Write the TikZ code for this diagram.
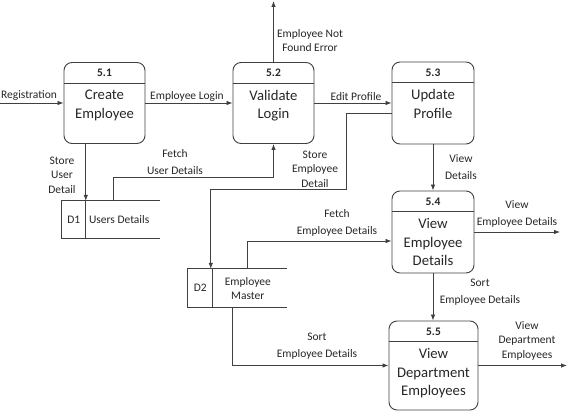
\documentclass[tikz,border=0pt]{standalone}
\usepackage{fontspec}
\setmainfont{Carlito}
\usepackage{xcolor}
\usepackage{tikz}
\usetikzlibrary{calc,arrows.meta,positioning}
\definecolor{lnc}{HTML}{404040}
\definecolor{txc}{HTML}{262626}
\tikzset{
  ln/.style={lnc,line width=0.9pt},
  ar/.style={-{Latex[length=6pt,width=4.5pt]},lnc,line width=0.8pt},
  pr/.style={draw=lnc,line width=0.9pt,rounded corners=8pt,inner sep=0pt},
  st/.style={inner sep=0pt},
  nb/.style={font=\fontsize{11.5}{13}\selectfont\bfseries,text=txc,inner sep=0pt},
  pt/.style={font=\fontsize{14.7}{18.5}\selectfont,text=txc,align=center,inner sep=0pt},
  lb/.style={font=\fontsize{11.5}{14.5}\selectfont,text=txc,align=center,inner sep=0pt},
  sl/.style={font=\fontsize{11.5}{14}\selectfont,text=txc,align=center,inner sep=0pt}
}
% process box: name, centre, size, number, text
\newcommand{\dfdp}[5]{%
  \node[pr,minimum width=#3,minimum height=#3] (#1) at (#2) {};
  \draw[ln] ($(#1.north west)+(0,21)$) -- ($(#1.north east)+(0,21)$);
  \node[nb] (#1n) at ($(#1.north)+(0,11)$) {#4};
  \node[pt,anchor=north] (#1t) at ($(#1.north)+(0,28)$) {#5};}

\begin{document}
\begin{tikzpicture}[x=1pt,y=-1pt]
\useasboundingbox (0,0) rectangle (571,411);
% processes
\dfdp{p51}{104.5,103}{81}{5.1}{Create\\Employee}
\dfdp{p52}{273.5,103}{81}{5.2}{Validate\\Login}
\dfdp{p53}{433,103}{82}{5.3}{Update\\Profile}
\dfdp{p54}{433,232}{82}{5.4}{View\\Employee\\Details}
\dfdp{p55}{433.5,365.5}{89}{5.5}{View\\Department\\Employees}
% data stores
\node[st,minimum width=98,minimum height=37] (d1) at (111,219.5) {};
\draw[ln] (d1.north east) -- (d1.north west) -- (d1.south west) -- (d1.south east);
\draw[ln] ($(d1.north west)+(24,0)$) -- ($(d1.south west)+(24,0)$);
\node[sl] (d1id) at ($(d1.west)+(12,0)$) {D1};
\node[sl,anchor=west] (d1nm) at ($(d1.west)+(27,0)$) {Users Details};
\node[st,minimum width=99,minimum height=38] (d2) at (237.5,288) {};
\draw[ln] (d2.north east) -- (d2.north west) -- (d2.south west) -- (d2.south east);
\draw[ln] ($(d2.north west)+(25,0)$) -- ($(d2.south west)+(25,0)$);
\node[sl] (d2id) at ($(d2.west)+(12.5,0)$) {D2};
\node[sl] (d2nm) at ($(d2.west)+(60,1)$) {Employee\\Master};
% free ends and store points
\coordinate (regin) at (0,103);
\coordinate (errout) at (273.5,1);
\coordinate (vedout) at (560,232);
\coordinate (vdeout) at (567,365.5);
\coordinate (d1a) at ($(d1.north west)+(24,0)$);
\coordinate (d1b) at ($(d1.north west)+(52,0)$);
\coordinate (d2a) at ($(d2.north west)+(23,0)$);
\coordinate (d2b) at ($(d2.north west)+(60,0)$);
% flows
\draw[ar] (regin) -- (p51.west);
\draw[ar] (p51.east) -- (p52.west);
\draw[ar] (p52.north) -- (errout);
\draw[ar] (p52.east) -- (p53.west);
\draw[ar] (p53.south) -- (p54.north);
\draw[ar] (p54.south) -- (p54.south |- p55.north);
\draw[ar] (p54.east) -- (vedout);
\draw[ar] (p55.east) -- (vdeout);
\draw[ar] (d1a |- p51.south) -- (d1a);
\draw[ar] (d1b) -- ++(0,-23) -| (p52.south);
\draw[ar] ($(p53.west)+(0,10)$) -- ++(-45,0) -- ++(0,76) -| (d2a);
\draw[ar] (d2b) |- ($(p54.west)+(0,9)$);
\draw[ar] ($(d2.south west)+(45,0)$) |- (p55.west);
% labels
\node[lb] (lreg) at (29,96) {Registration};
\node[lb] (llog) at (187,96) {Employee Login};
\node[lb] (lerr) at (310,40.5) {Employee Not\\Found Error};
\node[lb] (ledit) at (356,97) {Edit Profile};
\node[lb] (lsud) at (62,175) {Store\\User\\Detail};
\node[lb] (lfud) at (175,162) {Fetch\\[3pt]User Details};
\node[lb] (lsed) at (315,169) {Store\\Employee\\Detail};
\node[lb] (lvd) at (461,167) {View\\[3pt]Details};
\node[lb] (lfed) at (337,223) {Fetch\\[3pt]Employee Details};
\node[lb] (lved) at (517,214) {View\\[3pt]Employee Details};
\node[lb] (lsed1) at (480,292) {Sort\\[3pt]Employee Details};
\node[lb] (lsed2) at (317,346) {Sort\\[3pt]Employee Details};
\node[lb] (lvde) at (527,340.5) {View\\Department\\Employees};
\end{tikzpicture}
\end{document}
